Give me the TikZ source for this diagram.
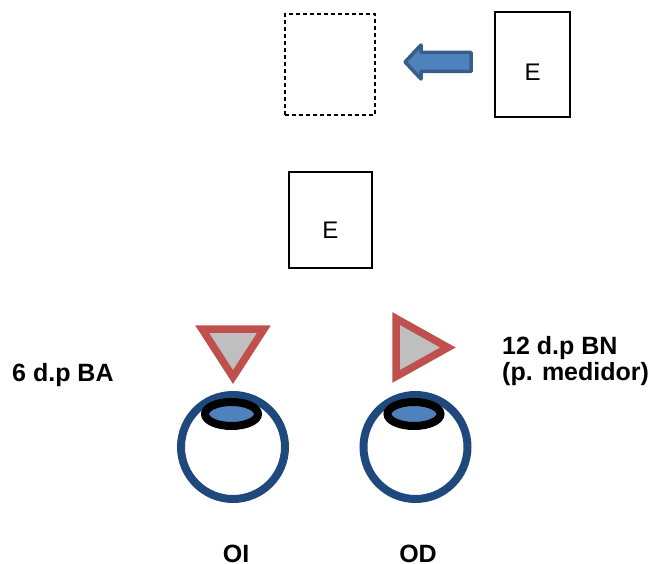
\documentclass[tikz,border=0pt]{standalone}
\usepackage{fontspec}
\setmainfont{Liberation Sans}
\usetikzlibrary{shapes.geometric}
\definecolor{ringblue}{HTML}{1F497D}
\definecolor{lensblue}{HTML}{4F81BD}
\definecolor{arrowrim}{HTML}{385D8A}
\definecolor{prismred}{HTML}{C0504D}
\definecolor{prismgray}{HTML}{BFBFBF}
\begin{document}
\begin{tikzpicture}[x=1pt,y=-1pt,
                    chart/.style={draw,rectangle,line width=1.5pt,inner sep=0pt},
                    letter/.style={font=\fontsize{24}{24}\selectfont,inner sep=0pt},
                    tag/.style={font=\bfseries\fontsize{25}{26}\selectfont,inner sep=0pt},
                    prism/.style={draw=prismred,fill=prismgray,line width=7.5pt,miter limit=10},
                    eyeball/.style={circle,draw=ringblue,line width=8pt,minimum size=104pt,inner sep=0pt},
                    lens/.style={ellipse,draw=black,fill=lensblue,line width=8pt,
                                 minimum width=53pt,minimum height=24pt,inner sep=0pt}]

  \useasboundingbox (0,0) rectangle (656,564);

  % charts
  \node[chart,dash pattern=on 4pt off 3pt,minimum width=90pt,minimum height=101pt] (ghost) at (330,64.5) {};
  \node[chart,minimum width=75pt,minimum height=105pt] (far)  at (532.5,64.5) {};
  \node[chart,minimum width=83pt,minimum height=96pt]  (seen) at (330.5,220)  {};
  \node[letter] (Efar)  at ([yshift=-7.5pt]far.center)  {E};
  \node[letter] (Eseen) at ([yshift=-10pt]seen.center)  {E};

  % displacement arrow
  \draw[fill=lensblue,draw=arrowrim,line width=3.5pt,line join=round]
    (405,62) -- (421,45) -- (421,52.5) -- (471,52.5) -- (471,71.5)
             -- (421,71.5) -- (421,79) -- cycle;

  % prisms
  \draw[prism] (202,329) -- (264,329) -- (233,377) -- cycle;
  \draw[prism] (396,318.5) -- (448,347.5) -- (396,376.5) -- cycle;

  % eyes
  \node[eyeball] (OIeye) at (233,447)   {};
  \node[eyeball] (ODeye) at (415.5,447) {};
  \node[lens]    (OIlens) at (231.5,414) {};
  \node[lens]    (ODlens) at (414,414)   {};

  % labels
  \node[tag,anchor=base west] (BA) at (12,381) {6 d.p BA};
  \node[tag,anchor=north west,align=left] (BN) at (502,336) {12 d.p BN\\(p. medidor)};
  \node[tag,anchor=base] (OI) at (236,562) {OI};
  \node[tag,anchor=base] (OD) at (418,562) {OD};
\end{tikzpicture}
\end{document}
